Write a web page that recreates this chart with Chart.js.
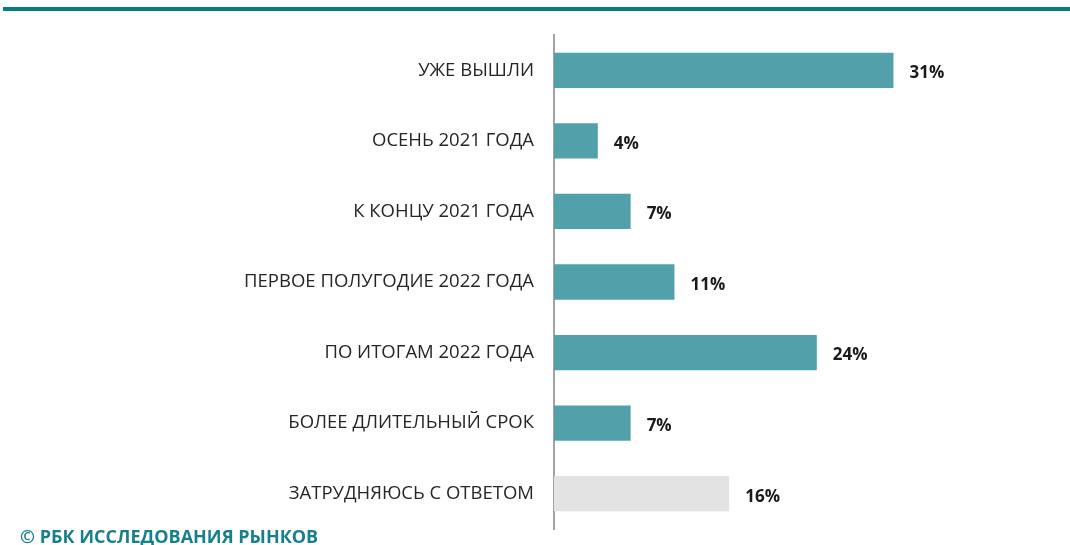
<!DOCTYPE html>
<html lang="ru">
<head>
<meta charset="utf-8">
<title>Сроки выхода</title>
<script src="https://cdn.jsdelivr.net/npm/chart.js@4"></script>
<style>
  html, body { margin: 0; padding: 0; background: #fff; }
  #wrap { position: relative; width: 1070px; height: 545px; overflow: hidden; }
  #topLine { position: absolute; left: 3px; right: 0; top: 7px; height: 4px; background: #027f7d; }
  #chartBox { position: absolute; left: 0; top: 0; width: 1070px; height: 545px; }
  #footer { position: absolute; left: 20px; top: 524px; line-height: 18px; font: bold 18px "Open Sans", sans-serif; color: #17808a; white-space: nowrap; }
</style>
</head>
<body>
<div id="wrap">
  <div id="topLine"></div>
  <div id="chartBox"><canvas id="barChart"></canvas></div>
  <div id="footer">© РБК ИССЛЕДОВАНИЯ РЫНКОВ</div>
</div>
<script>
  // Данные диаграммы
  const categories = [
    'УЖЕ ВЫШЛИ',
    'ОСЕНЬ 2021 ГОДА',
    'К КОНЦУ 2021 ГОДА',
    'ПЕРВОЕ ПОЛУГОДИЕ 2022 ГОДА',
    'ПО ИТОГАМ 2022 ГОДА',
    'БОЛЕЕ ДЛИТЕЛЬНЫЙ СРОК',
    'ЗАТРУДНЯЮСЬ С ОТВЕТОМ'
  ];
  const values = [31, 4, 7, 11, 24, 7, 16];
  const barColors = ['#52a0aa', '#52a0aa', '#52a0aa', '#52a0aa', '#52a0aa', '#52a0aa', '#e3e3e3'];

  // Подписи значений справа от столбцов
  const valueLabels = {
    id: 'valueLabels',
    afterDatasetsDraw(chart) {
      const ctx = chart.ctx;
      const meta = chart.getDatasetMeta(0);
      ctx.save();
      ctx.font = 'bold 17px "Open Sans", sans-serif';
      ctx.fillStyle = '#1a1a1a';
      ctx.textAlign = 'left';
      ctx.textBaseline = 'middle';
      meta.data.forEach((bar, i) => {
        ctx.fillText(values[i] + '%', bar.x + 16, bar.y + 3);
      });
      ctx.restore();
    }
  };

  function loadChart() {
    const ctx = document.getElementById('barChart').getContext('2d');
    new Chart(ctx, {
      type: 'bar',
      data: {
        labels: categories,
        datasets: [{
          data: values,
          backgroundColor: barColors,
          borderWidth: 0,
          barPercentage: 0.5,
          categoryPercentage: 1
        }]
      },
      options: {
        indexAxis: 'y',
        responsive: true,
        maintainAspectRatio: false,
        animation: false,
        layout: { padding: { top: 35, bottom: 16, right: 78, left: 0 } },
        plugins: { legend: { display: false }, tooltip: { enabled: false } },
        scales: {
          x: { display: false, min: 0, max: 40 },
          y: {
            grid: { display: false, drawTicks: false },
            border: { display: true, color: '#a3a3a3', width: 2 },
            ticks: {
              color: '#262626',
              padding: 20,
              font: { family: '"Open Sans", sans-serif', size: 18.5 }
            },
            afterFit(scale) {
              scale.width = 554;
              scale.paddingTop = 0;
              scale.paddingBottom = 0;
            }
          }
        }
      },
      plugins: [valueLabels]
    });
  }

  document.addEventListener('DOMContentLoaded', loadChart);
</script>
</body>
</html>
